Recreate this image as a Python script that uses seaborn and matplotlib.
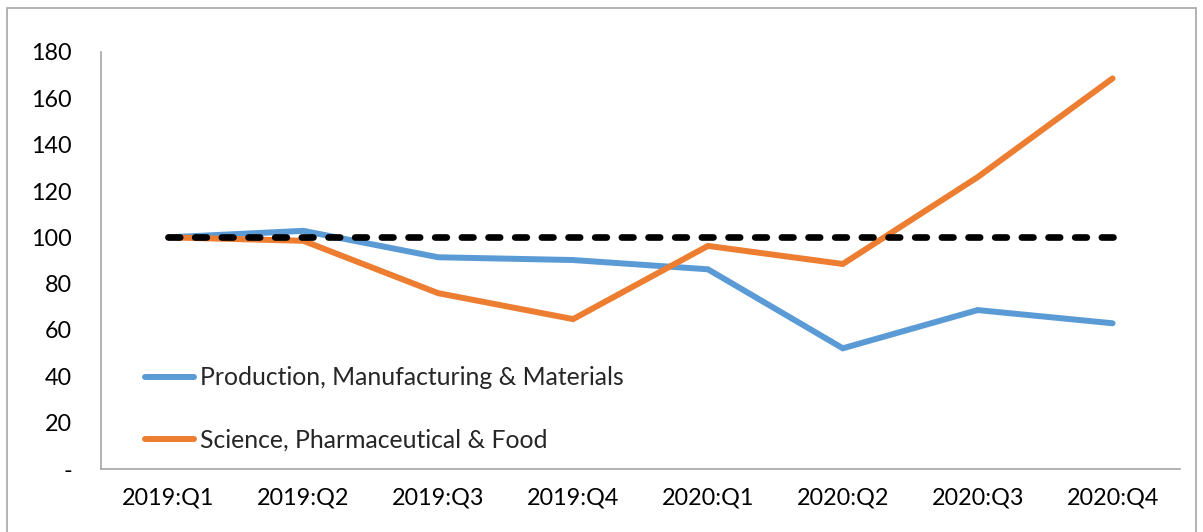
import matplotlib
matplotlib.use("Agg")
import matplotlib.pyplot as plt
import matplotlib.ticker as mticker
from matplotlib.patches import Rectangle
import seaborn as sns
import pandas as pd

quarters = ["2019:Q1", "2019:Q2", "2019:Q3", "2019:Q4",
            "2020:Q1", "2020:Q2", "2020:Q3", "2020:Q4"]
production = [100, 102.8, 91.4, 90.2, 86.2, 52.1, 68.6, 62.9]
science = [100, 98.5, 75.9, 64.7, 96.3, 88.5, 126, 168.6]
baseline = [100, 100, 100, 100, 100, 100, 100, 100]
series_names = ["Production, Manufacturing & Materials",
                "Science, Pharmaceutical & Food"]
yticks = [0, 20, 40, 60, 80, 100, 120, 140, 160, 180]
ytick_labels = ["-", "20", "40", "60", "80", "100", "120", "140", "160", "180"]

sns.set_theme(style="white")
plt.rcParams["font.family"] = ["Lato", "DejaVu Sans"]

BLUE = "#5B9BD5"
ORANGE = "#ED7D31"
GRAY = "#A6A6A6"

df = pd.DataFrame({
    "quarter": quarters * 2,
    "value": production + science,
    "series": [series_names[0]] * len(quarters) + [series_names[1]] * len(quarters),
})

fig = plt.figure(figsize=(12.03, 5.32), dpi=100)
ax = fig.add_axes([101 / 1203, 1 - 469 / 532, (1180 - 101) / 1203, (469 - 52) / 532])

sns.lineplot(data=df, x="quarter", y="value", hue="series",
             palette=[BLUE, ORANGE], linewidth=4.3, ax=ax, sort=False,
             solid_capstyle="round", solid_joinstyle="miter")
sns.lineplot(x=quarters, y=baseline, color="black", linewidth=4.8, ax=ax,
             dashes=False, legend=False)
ln = ax.get_lines()[-1]
ln.set_dashes((1.75, 2.25))
ln.set_dash_capstyle("round")
ln.set_zorder(5)

ax.set_xlim(-0.5, len(quarters) - 0.5)
ax.set_ylim(0, 180)
ax.set_yticks(yticks)
ax.set_yticklabels(ytick_labels)
ax.set_xlabel("")
ax.set_ylabel("")

for s in ["top", "right"]:
    ax.spines[s].set_visible(False)
for s in ["left", "bottom"]:
    ax.spines[s].set_color(GRAY)
    ax.spines[s].set_linewidth(1.2)

TICK_FS = 16.8
ax.tick_params(axis="y", length=0, pad=21, labelsize=TICK_FS, colors="black")
ax.tick_params(axis="x", direction="inout", length=8.5, width=1.2, color=GRAY,
               pad=9, labelsize=TICK_FS, labelcolor="black")
ax.xaxis.set_minor_locator(mticker.FixedLocator([len(quarters) - 0.5]))
ax.tick_params(axis="x", which="minor", direction="inout", length=8.5, width=1.2,
               color=GRAY)

leg = ax.legend(loc="lower left", bbox_to_anchor=(145 / 1203, 1 - 452 / 532),
                bbox_transform=fig.transFigure, frameon=False,
                fontsize=17.8, handlelength=2.0, handletextpad=0.22,
                labelspacing=1.6, borderpad=0, borderaxespad=0)
for h in leg.get_lines():
    h.set_linewidth(4.3)
    h.set_solid_capstyle("round")

fig.patches.append(Rectangle((7 / 1203, -0.1), (1196 - 7) / 1203, 1.1 - 8 / 532,
                             transform=fig.transFigure, fill=False,
                             edgecolor=GRAY, linewidth=1.2))

fig.savefig("out.png", dpi=100)
